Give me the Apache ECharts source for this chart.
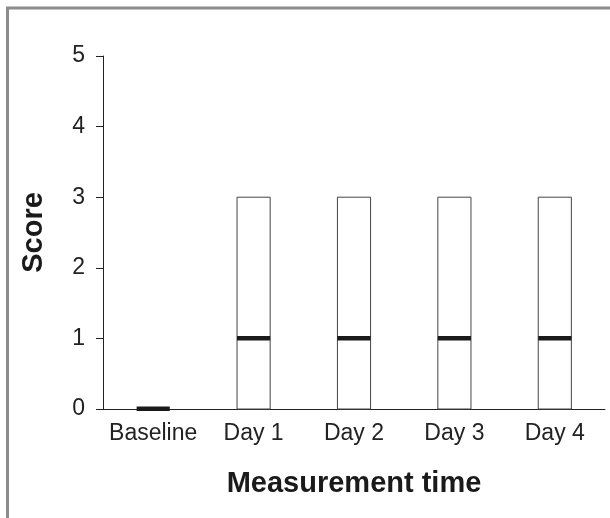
<!DOCTYPE html>
<html>
<head>
<meta charset="utf-8">
<script src="https://cdn.jsdelivr.net/npm/echarts@6/dist/echarts.min.js"></script>
<style>
html,body{margin:0;padding:0;background:#fff;}
#chart{width:610px;height:518px;}
</style>
</head>
<body>
<div id="chart"></div>
<script>
// Data
var categories = ['Baseline', 'Day 1', 'Day 2', 'Day 3', 'Day 4'];
var lowerQuartile = [0, 0, 0, 0, 0];
var medianValues = [0, 1, 1, 1, 1];
var upperQuartile = [0, 3, 3, 3, 3];
var yTicks = [0, 1, 2, 3, 4, 5];

var seriesData = categories.map(function (c, i) {
  return [i, lowerQuartile[i], medianValues[i], upperQuartile[i]];
});

var FONT = "'Liberation Sans', Arial, Helvetica, sans-serif";
var chart = echarts.init(document.getElementById('chart'), null, {renderer: 'canvas'});

chart.setOption({
  animation: false,
  backgroundColor: '#ffffff',
  graphic: [
    {type: 'line', shape: {x1: 6, y1: 8, x2: 610, y2: 8}, style: {stroke: '#8c8c8c', lineWidth: 3}, z: 100},
    {type: 'line', shape: {x1: 7.5, y1: 7, x2: 7.5, y2: 518}, style: {stroke: '#8c8c8c', lineWidth: 3}, z: 100}
  ],
  grid: {left: 103, right: 5, top: 56, bottom: 109, containLabel: false},
  xAxis: {
    type: 'category',
    data: categories,
    name: 'Measurement time',
    nameLocation: 'middle',
    nameGap: 60,
    nameTextStyle: {fontFamily: FONT, fontSize: 29, fontWeight: 'bold', color: '#1a1a1a'},
    axisLine: {show: true, lineStyle: {color: '#222', width: 1}},
    axisTick: {show: false},
    axisLabel: {fontFamily: FONT, fontSize: 23, color: '#222', margin: 13, interval: 0},
    splitLine: {show: false}
  },
  yAxis: {
    type: 'value',
    min: yTicks[0],
    max: yTicks[yTicks.length - 1],
    interval: 1,
    name: 'Score',
    nameLocation: 'middle',
    nameGap: 55,
    nameRotate: 90,
    nameTextStyle: {fontFamily: FONT, fontSize: 29, fontWeight: 'bold', color: '#1a1a1a'},
    axisLine: {show: true, lineStyle: {color: '#222', width: 1}},
    axisTick: {show: true, inside: false, length: 7, lineStyle: {color: '#222', width: 1}},
    axisLabel: {fontFamily: FONT, fontSize: 23, color: '#222', margin: 18},
    splitLine: {show: false}
  },
  series: [{
    type: 'custom',
    data: seriesData,
    renderItem: function (params, api) {
      var idx = api.value(0);
      var lo = api.coord([idx, api.value(1)]);
      var med = api.coord([idx, api.value(2)]);
      var hi = api.coord([idx, api.value(3)]);
      var w = api.size([1, 0])[0] * 0.33;
      var children = [];
      if (hi[1] < lo[1]) {
        children.push({
          type: 'rect',
          shape: {x: lo[0] - w / 2, y: hi[1], width: w, height: lo[1] - hi[1]},
          style: {fill: '#ffffff', stroke: '#444', lineWidth: 1}
        });
      }
      children.push({
        type: 'rect',
        shape: {x: med[0] - w / 2, y: med[1] - 2.5, width: w, height: 4.5},
        style: {fill: '#1a1a1a'}
      });
      return {type: 'group', children: children};
    },
    z: 3
  }]
});
</script>
</body>
</html>
